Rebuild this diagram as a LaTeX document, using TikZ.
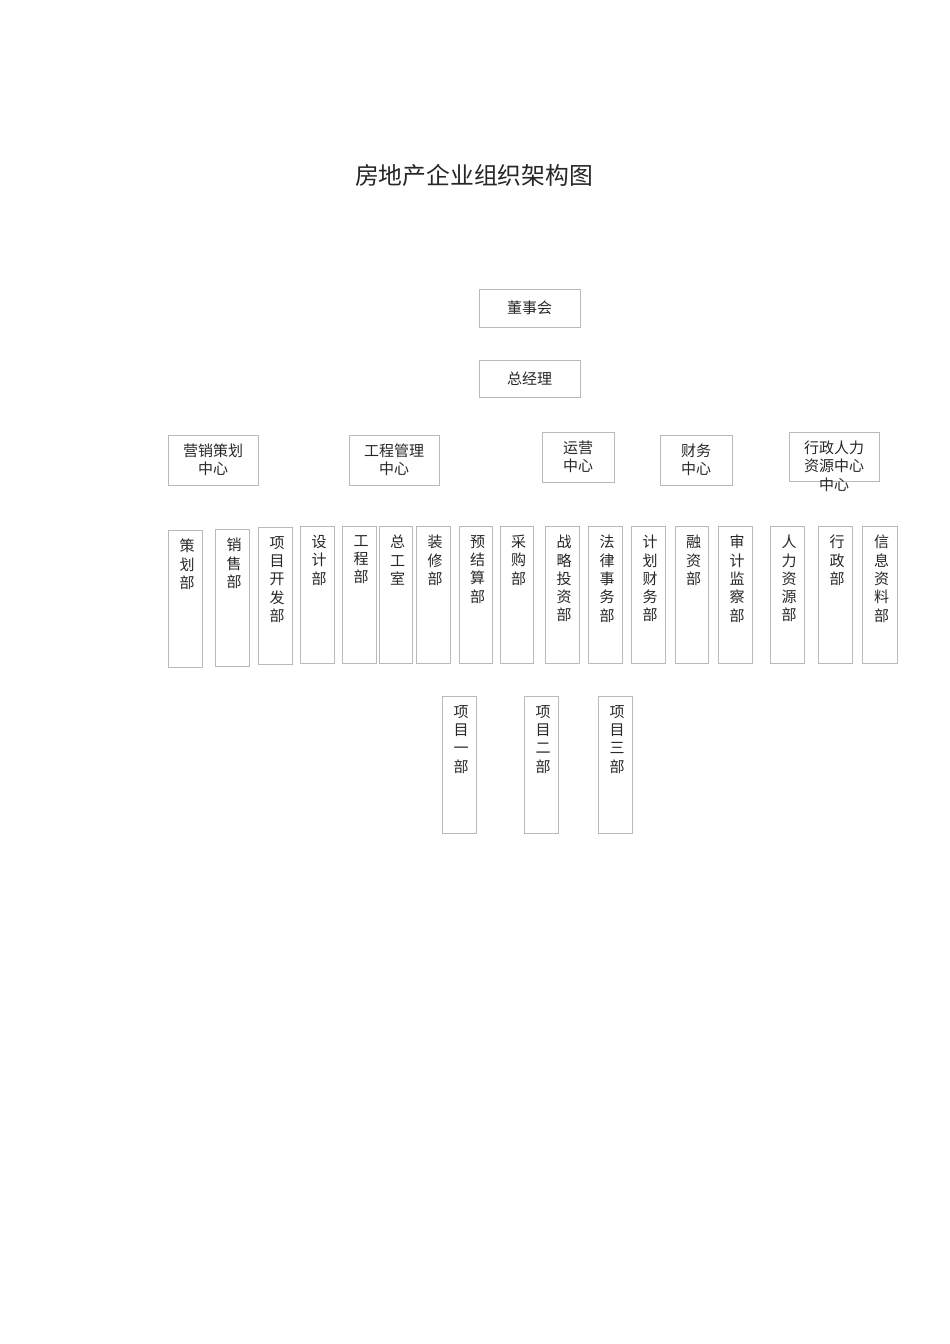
\documentclass[tikz,border=0pt]{standalone}
\usepackage{fontspec}
\setmainfont{Noto Sans CJK SC}
\definecolor{boxline}{RGB}{185,185,185}
\definecolor{txt}{RGB}{40,40,40}
\tikzset{
  box/.style={draw=boxline, line width=0.8pt, fill=white},
  boxtext/.style={text=txt, font=\fontsize{15}{18.3}\selectfont, align=center, inner sep=0pt},
  titletext/.style={text=black!85, font=\fontsize{23.8}{26}\selectfont, inner sep=0pt}
}
\newcommand{\deptcol}[6]{%
  \draw[box] (#2,#4) rectangle (#3,#5);
  \node[boxtext, anchor=north] (#1) at ({(#2+#3)/2+2},{#4+9}) {#6};
}
\newcommand{\deptrow}[6]{%
  \draw[box] (#2,#4) rectangle (#3,#5);
  \node[boxtext] (#1) at ({(#2+#3)/2},{(#4+#5)/2}) {#6};
}
\begin{document}
\begin{tikzpicture}[x=1pt,y=-1pt]
\useasboundingbox (0,0) rectangle (950,1344);
\fill[white] (0,0) rectangle (950,1344);
\node[titletext] (title) at (474,175) {房地产企业组织架构图};
% top level
\deptrow{dsh}{479}{580}{289}{327}{董事会}
\deptrow{zjl}{479}{580}{360}{397}{总经理}
% centers
\deptrow{yx}{168}{258}{435}{485}{营销策划\\中心}
\deptrow{gc}{349}{439}{435}{485}{工程管理\\中心}
\deptrow{yy}{542}{614}{432}{482}{运营\\中心}
\deptrow{cw}{660}{732}{435}{485}{财务\\中心}
\draw[box] (789,432) rectangle (879,481);
\node[boxtext] (xz) at (834,466) {行政人力\\资源中心\\中心};
% departments
\deptcol{d1}{168}{202}{530}{667}{策\\划\\部}
\deptcol{d2}{215}{249}{529}{666}{销\\售\\部}
\deptcol{d3}{258}{292}{527}{664}{项\\目\\开\\发\\部}
\deptcol{d4}{300}{334}{526}{663}{设\\计\\部}
\deptcol{d5}{342}{376}{526}{663}{工\\程\\部}
\deptcol{d6}{379}{412}{526}{663}{总\\工\\室}
\deptcol{d7}{416}{450}{526}{663}{装\\修\\部}
\deptcol{d8}{459}{492}{526}{663}{预\\结\\算\\部}
\deptcol{d9}{500}{533}{526}{663}{采\\购\\部}
\deptcol{d10}{545}{579}{526}{663}{战\\略\\投\\资\\部}
\deptcol{d11}{588}{622}{526}{663}{法\\律\\事\\务\\部}
\deptcol{d12}{631}{665}{526}{663}{计\\划\\财\\务\\部}
\deptcol{d13}{675}{708}{526}{663}{融\\资\\部}
\deptcol{d14}{718}{752}{526}{663}{审\\计\\监\\察\\部}
\deptcol{d15}{770}{804}{526}{663}{人\\力\\资\\源\\部}
\deptcol{d16}{818}{852}{526}{663}{行\\政\\部}
\deptcol{d17}{862}{897}{526}{663}{信\\息\\资\\料\\部}
% projects
\deptcol{p1}{442}{476}{696}{833}{项\\目\\一\\部}
\deptcol{p2}{524}{558}{696}{833}{项\\目\\二\\部}
\deptcol{p3}{598}{632}{696}{833}{项\\目\\三\\部}
\end{tikzpicture}
\end{document}
